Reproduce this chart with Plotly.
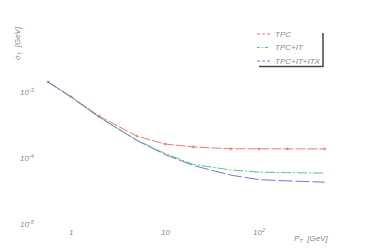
import numpy as np
import plotly.graph_objects as go

pt = [0.57, 1, 2, 5, 10, 20, 50, 100, 200, 500]
tpc = [1.42e-3, 8.5e-4, 4.3e-4, 2.15e-4, 1.63e-4, 1.47e-4, 1.38e-4, 1.37e-4, 1.37e-4, 1.37e-4]
tpc_it = [1.42e-3, 8.4e-4, 4.15e-4, 1.87e-4, 1.17e-4, 8.0e-5, 6.6e-5, 6.1e-5, 6.0e-5, 5.9e-5]
tpc_it_itx = [1.42e-3, 8.4e-4, 4.15e-4, 1.85e-4, 1.13e-4, 7.7e-5, 5.5e-5, 4.7e-5, 4.5e-5, 4.3e-5]

series_names = ["TPC", "TPC+IT", "TPC+IT+ITX"]
colors = ["#f07878", "#50c888", "#7878d0"]
dashes = ["10px,2px", "10px,2px,2px,2px", "14px,3px"]

xtick_vals = [1, 10, 100]
xtick_text = ["1", "10", "10<sup>2</sup>"]
ytick_vals = [1e-3, 1e-4, 1e-5]
ytick_text = ["10<sup>-3</sup>", "10<sup>-4</sup>", "10<sup>-5</sup>"]

OFF = 8  # page body margin
W, H = 365 - OFF, 248 - OFF
txt_color = "#8a8a8a"
fam = "Liberation Sans, Arial, sans-serif"


def px(x):
    return (x - OFF) / W


def py(y):
    return 1 - (y - OFF) / H


fig = go.Figure()
for name, ys, c, d in zip(series_names, [tpc, tpc_it, tpc_it_itx], colors, dashes):
    fig.add_trace(go.Scatter(
        x=pt, y=ys, mode="lines+markers" if name == "TPC" else "lines",
        name=name, line=dict(color=c, width=1, dash=d),
        marker=dict(symbol="star", size=3, color=c), showlegend=False))

# x: 1 -> page px 71, decade 94 px ; y: 1e-3 -> page py 92, decade 66 px
xr = [-(71 - OFF) / 94, -(71 - OFF) / 94 + W / 94]
yr = [-3 - (H + OFF - 92) / 66, -3 + (92 - OFF) / 66]

font = dict(size=8, color=txt_color, family=fam)
annotations = []
for v, t in zip(xtick_vals, xtick_text):
    annotations.append(dict(x=np.log10(v), y=py(232), xref="x", yref="paper",
                            xanchor="center", yanchor="middle",
                            text=f"<i>{t}</i>", showarrow=False, font=font))
for v, t in zip(ytick_vals, ytick_text):
    annotations.append(dict(x=px(27), y=np.log10(v), xref="paper", yref="y",
                            xanchor="center", yanchor="middle",
                            text=f"<i>{t}</i>", showarrow=False, font=font))
annotations.append(dict(x=px(311), y=py(239), xref="paper", yref="paper",
                        xanchor="center", yanchor="middle",
                        text="<i>P<sub>T</sub>  [GeV]</i>", showarrow=False, font=font))
annotations.append(dict(x=px(18), y=py(43), xref="paper", yref="paper",
                        xanchor="center", yanchor="middle",
                        text="<i>σ<sub>T</sub>  [GeV]</i>", showarrow=False, textangle=-90,
                        font=font))

shapes = []
leg_y = [34, 47.5, 61]
leg_dash = ["3px,2px", "3px,2px,1px,2px", "3px,2px"]
for name, c, d, yy in zip(series_names, colors, leg_dash, leg_y):
    shapes.append(dict(type="line", xref="paper", yref="paper",
                       x0=px(257), x1=px(270), y0=py(yy), y1=py(yy),
                       line=dict(color=c, width=1, dash=d)))
    annotations.append(dict(x=px(273), y=py(yy), xref="paper", yref="paper",
                            xanchor="left", yanchor="middle",
                            text=f"<i>{name}</i>", showarrow=False, font=font))
shapes.append(dict(type="line", xref="paper", yref="paper", x0=px(323), x1=px(323),
                   y0=py(33), y1=py(66.5), line=dict(color="#444", width=1.5)))
shapes.append(dict(type="line", xref="paper", yref="paper", x0=px(259), x1=px(323.5),
                   y0=py(66.5), y1=py(66.5), line=dict(color="#444", width=1.5)))

fig.update_layout(
    width=W, height=H, margin=dict(l=0, r=0, t=0, b=0),
    paper_bgcolor="white", plot_bgcolor="white",
    xaxis=dict(type="log", range=xr, showgrid=False, zeroline=False, showline=False,
               showticklabels=False, ticks=""),
    yaxis=dict(type="log", range=yr, showgrid=False, zeroline=False, showline=False,
               showticklabels=False, ticks=""),
    annotations=annotations, shapes=shapes, showlegend=False,
)
fig.write_html("out.html")
